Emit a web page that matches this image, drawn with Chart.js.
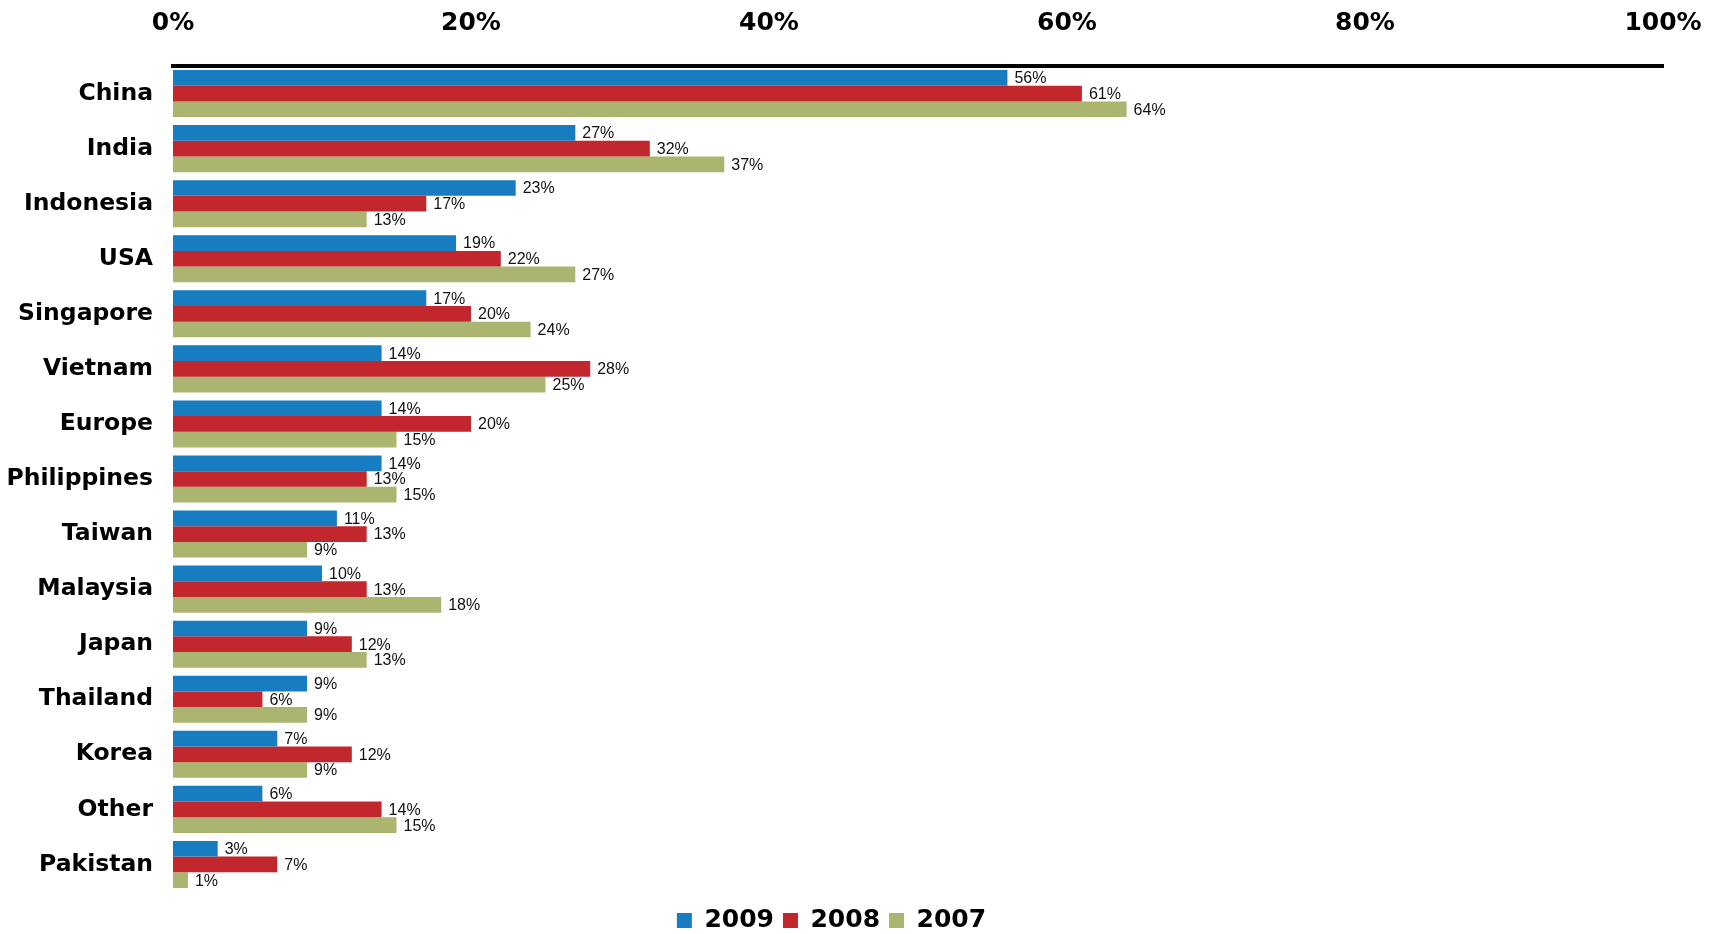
<!DOCTYPE html>
<html><head><meta charset="utf-8">
<script src="https://cdn.jsdelivr.net/npm/chart.js@4"></script>
<style>html,body{margin:0;padding:0;background:#fff}#wrap{width:1719px;height:934px}</style>
</head><body><div id="wrap"><canvas id="c" width="1719" height="934"></canvas></div>
<script>
const categories = ["China","India","Indonesia","USA","Singapore","Vietnam","Europe","Philippines","Taiwan","Malaysia","Japan","Thailand","Korea","Other","Pakistan"];
const seriesNames = ["2009","2008","2007"];
const values2009 = [56,27,23,19,17,14,14,14,11,10,9,9,7,6,3];
const values2008 = [61,32,17,22,20,28,20,13,13,13,12,6,12,14,7];
const values2007 = [64,37,13,27,24,25,15,15,9,18,13,9,9,15,1];
const xTicks = [0,20,40,60,80,100];
const colors = ["#177DC0","#C2272E","#ABB570"];

const labelPlugin = {
  id:'barLabels',
  afterDatasetsDraw(chart){
    const ctx = chart.ctx;
    ctx.save();
    ctx.font = '16px "Liberation Sans", Arial, sans-serif';
    ctx.fillStyle = '#111';
    ctx.textAlign = 'left';
    ctx.textBaseline = 'middle';
    chart.data.datasets.forEach((ds,i)=>{
      chart.getDatasetMeta(i).data.forEach((bar,j)=>{
        ctx.fillText(ds.data[j] + '%', bar.x + 7, bar.y + 1);
      });
    });
    ctx.restore();
  }
};

const boldFont = '"DejaVu Sans", sans-serif';

new Chart(document.getElementById('c'), {
  type:'bar',
  data:{
    labels: categories,
    datasets:[
      {label:seriesNames[0], data:values2009, backgroundColor:colors[0]},
      {label:seriesNames[1], data:values2008, backgroundColor:colors[1]},
      {label:seriesNames[2], data:values2007, backgroundColor:colors[2]}
    ]
  },
  options:{
    indexAxis:'y',
    responsive:false,
    animation:false,
    devicePixelRatio:1,
    datasets:{bar:{categoryPercentage:0.855, barPercentage:1.0}},
    layout:{padding:{left:0,right:56,top:0,bottom:-9}},
    scales:{
      x:{
        position:'top', min:0, max:100,
        afterBuildTicks(scale){ scale.ticks = xTicks.map(v=>({value:v})); },
        grid:{display:false, drawTicks:false},
        border:{display:true, color:'#000', width:4},
        ticks:{padding:28, color:'#000', font:{family:boldFont, weight:'bold', size:25}, callback:v=>v+'%'},
        afterFit(scale){ scale.height = 66; scale.paddingLeft = 0; scale.paddingRight = 0; }
      },
      xGap:{
        type:'linear', axis:'x', position:'bottom', display:true,
        grid:{display:false, drawTicks:false},
        border:{display:false},
        ticks:{display:false},
        afterFit(scale){ scale.height = 7; scale.paddingLeft = 0; scale.paddingRight = 0; }
      },
      y:{
        grid:{display:false, drawTicks:false},
        border:{display:false},
        ticks:{padding:20, color:'#000', font:{family:boldFont, weight:'bold', size:23.5}},
        afterFit(scale){ scale.width = 173; scale.paddingTop = 0; scale.paddingBottom = 0; }
      }
    },
    plugins:{
      legend:{
        position:'bottom',
        labels:{boxWidth:15, boxHeight:15, padding:9, color:'#000', font:{family:boldFont, weight:'bold', size:25, lineHeight:1}}
      },
      tooltip:{enabled:false}
    }
  },
  plugins:[labelPlugin]
});
</script></body></html>
